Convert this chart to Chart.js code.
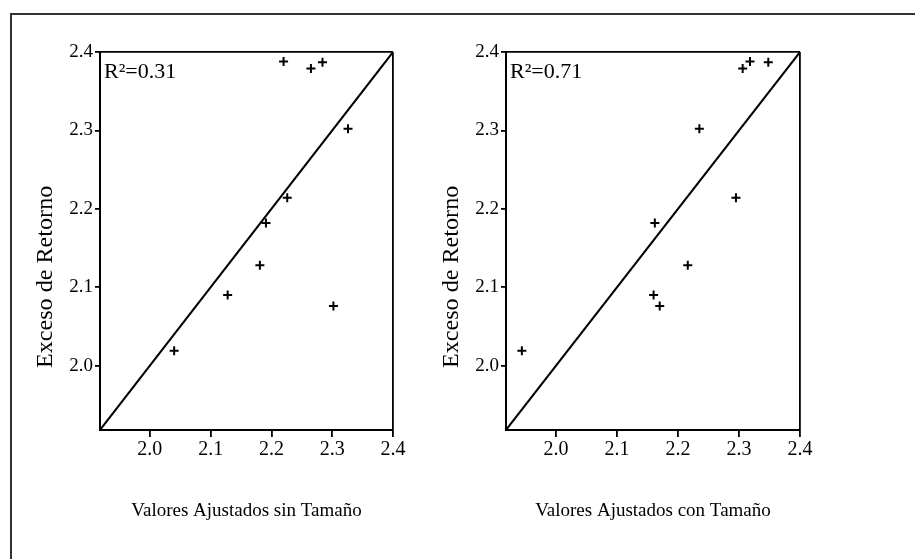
<!DOCTYPE html>
<html>
<head>
<meta charset="utf-8">
<script src="https://cdn.jsdelivr.net/npm/chart.js@4"></script>
<style>
  body { margin: 0; background: #fff; }
  #page { position: relative; width: 915px; height: 559px; overflow: hidden; }
  #frame { position: absolute; left: 10px; top: 13px; right: -5px; bottom: -5px;
           border-left: 2px solid #333; border-top: 2px solid #333; }
  canvas { position: absolute; top: 0; }
</style>
</head>
<body>
<div id="page">
  <div id="frame"></div>
  <canvas id="chartSin" style="left:0px" width="455" height="559"></canvas>
  <canvas id="chartCon" style="left:430px" width="485" height="559"></canvas>
</div>
<script>
// excess return (same for both panels)
const excesoRetorno = [2.388, 2.387, 2.379, 2.302, 2.214, 2.182, 2.128, 2.090, 2.076, 2.019];
// fitted values without / with size
const ajustadosSinTamano = [2.220, 2.284, 2.265, 2.326, 2.226, 2.191, 2.181, 2.128, 2.302, 2.040];
const ajustadosConTamano = [2.318, 2.348, 2.306, 2.235, 2.295, 2.162, 2.216, 2.160, 2.170, 1.944];

const tickValues = [2.0, 2.1, 2.2, 2.3, 2.4];
const axisMin = 1.918;
const axisMax = 2.4;
const lineaDiagonal = [axisMin, axisMax];

const r2Labels = ['R²=0.31', 'R²=0.71'];
const xTitles = ['Valores Ajustados sin Tamaño', 'Valores Ajustados con Tamaño'];
const yTitle = 'Exceso de Retorno';

const ink = '#000';
const serif = 'Liberation Serif';

// R² note and the vertical title (sits a bit below the panel centre)
const panelText = {
  id: 'panelText',
  afterDraw(chart, args, opts) {
    const { ctx, chartArea: a } = chart;
    ctx.save();
    ctx.fillStyle = ink;
    ctx.font = '22px "' + serif + '"';
    ctx.textBaseline = 'alphabetic';
    ctx.textAlign = 'left';
    ctx.fillText(opts.r2, a.left + 4, a.top + 26);

    ctx.font = '23px "' + serif + '"';
    ctx.translate(a.left - 54, a.top + (a.bottom - a.top) * 0.595);
    ctx.rotate(-Math.PI / 2);
    ctx.scale(1.05, 1);
    ctx.textAlign = 'center';
    ctx.textBaseline = 'middle';
    ctx.fillText(opts.yTitle, 0, 0);
    ctx.restore();
  }
};

function edgeColor(c) {
  return c.tick && c.tick.value === axisMax ? ink : 'rgba(0,0,0,0)';
}

function makeChart(id, xs, r2, xTitle, yWidth, padRight) {
  return new Chart(document.getElementById(id), {
    type: 'scatter',
    data: {
      datasets: [
        {
          data: xs.map((x, i) => ({ x: x, y: excesoRetorno[i] })),
          pointStyle: 'cross',
          pointRadius: 4.5,
          borderColor: ink,
          borderWidth: 2
        },
        {
          data: lineaDiagonal.map(v => ({ x: v, y: v })),
          showLine: true,
          borderColor: ink,
          borderWidth: 2,
          pointRadius: 0
        }
      ]
    },
    options: {
      responsive: false,
      animation: false,
      layout: { padding: { left: 0, top: 52, right: padRight, bottom: 33 } },
      plugins: {
        legend: { display: false },
        tooltip: { enabled: false },
        panelText: { r2: r2, yTitle: yTitle }
      },
      scales: {
        x: {
          type: 'linear',
          min: axisMin,
          max: axisMax,
          afterBuildTicks: s => { s.ticks = tickValues.map(v => ({ value: v })); },
          afterFit: s => { s.height = 96; },
          grid: { color: edgeColor, tickColor: ink, tickLength: 7, lineWidth: 1.8 },
          border: { color: ink, width: 2 },
          ticks: {
            font: { family: serif, size: 20 },
            color: ink,
            padding: 1,
            maxRotation: 0,
            autoSkip: false,
            callback: v => Number(v).toFixed(1)
          },
          title: {
            display: true,
            text: xTitle,
            font: { family: serif, size: 19 },
            color: ink,
            padding: { top: 4, bottom: 4 }
          }
        },
        y: {
          type: 'linear',
          min: axisMin,
          max: axisMax,
          afterBuildTicks: s => { s.ticks = tickValues.map(v => ({ value: v })); },
          afterFit: s => { s.width = yWidth; },
          grid: { color: edgeColor, tickColor: ink, tickLength: 5, lineWidth: 1.8 },
          border: { color: ink, width: 2 },
          ticks: {
            font: { family: serif, size: 19 },
            color: ink,
            padding: 2,
            autoSkip: false,
            callback: v => Number(v).toFixed(1)
          }
        }
      }
    },
    plugins: [panelText]
  });
}

makeChart('chartSin', ajustadosSinTamano, r2Labels[0], xTitles[0], 100, 62);
makeChart('chartCon', ajustadosConTamano, r2Labels[1], xTitles[1], 76, 115);
</script>
</body>
</html>
